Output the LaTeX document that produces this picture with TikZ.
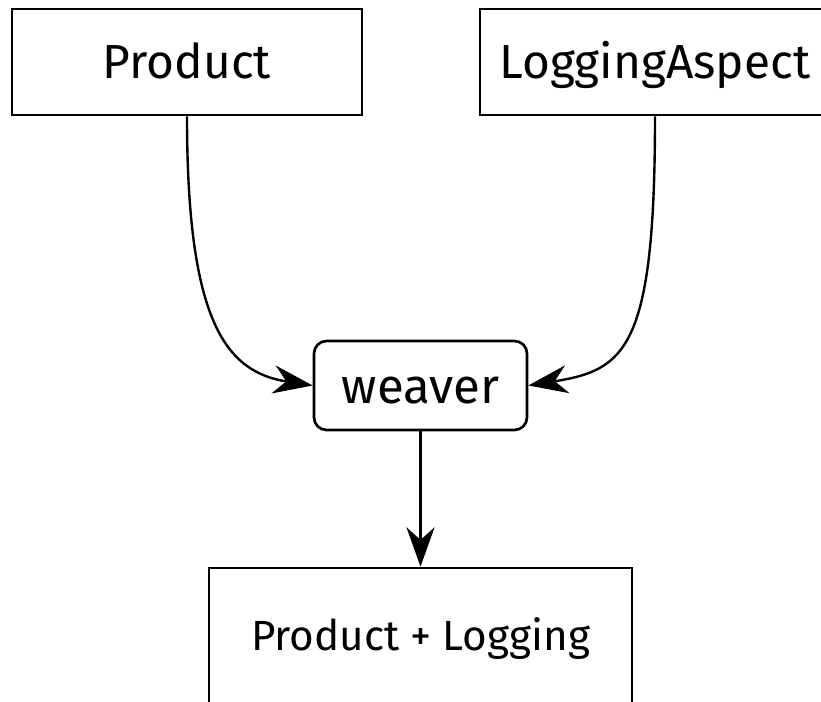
\documentclass[tikz,border=0pt]{standalone}
\usepackage{fontspec}
\setmainfont{Fira Sans}
\usetikzlibrary{arrows.meta, positioning, calc}
\tikzset{
  box/.style={rectangle, draw=black, line width=1.9pt, inner sep=0pt,
              minimum width=8.75cm, minimum height=2.65cm,
              text height=22.8pt, text depth=0pt, font=\fontsize{34}{40}\selectfont},
  weave/.style={box, rounded corners=9pt, text height=25pt,
                font=\fontsize{35}{42}\selectfont},
  arc/.style={-{Stealth[length=28pt, width=20pt, inset=9pt]}, line width=1.7pt}
}

\begin{document}
\begin{tikzpicture}[x=0.025cm, y=-0.025cm]
  \useasboundingbox (0,0) rectangle (821,702);
  % the two inputs
  \node[box] (product) at (187,62) {Product};
  \node[box] (logging) at (655,62) {LoggingAspect};
  % the weaving step and its output
  \node[weave, minimum width=5.325cm, minimum height=2.225cm] (weaver) at (420.5,385.5) {weaver};
  \node[box, minimum width=10.575cm, minimum height=3.45cm, text height=18.5pt,
        font=\fontsize{30}{36}\selectfont] (result) at (420.5,637) {Product + Logging};
  \draw[arc] (product) .. controls (187,320) and (225,372) .. (weaver.west);
  \draw[arc] (logging) .. controls (655,350) and (625,370) .. (weaver.east);
  \draw[arc] (weaver) -- (result);
\end{tikzpicture}
\end{document}
